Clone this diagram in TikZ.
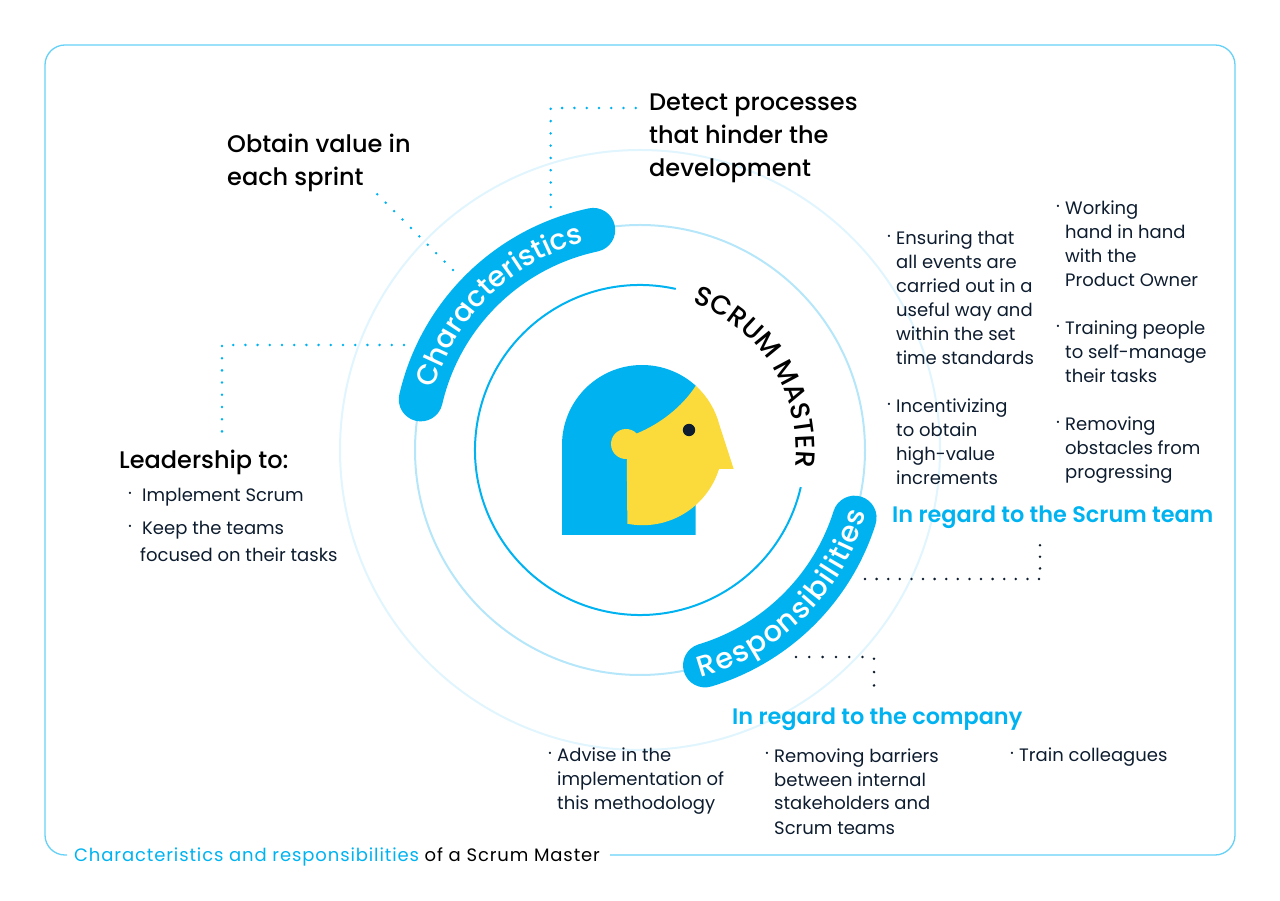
\documentclass[tikz,border=0pt]{standalone}
\usepackage{fontspec}
\setmainfont{Poppins}
\newfontfamily\medfont{Poppins Medium}
\newfontfamily\semifont{Poppins SemiBold}
\usepackage{tikz}
\usetikzlibrary{positioning, decorations.text}
\definecolor{skyblue}{HTML}{00B3F0}
\definecolor{sunyellow}{HTML}{FBDB3C}
\definecolor{navy}{HTML}{0D1C2E}
\definecolor{ringmid}{HTML}{B5E6F9}
\definecolor{ringout}{HTML}{E0F5FD}
\definecolor{framecol}{HTML}{66D1F6}
\newcommand{\charfont}{\medfont\fontsize{28.5}{28.5}\selectfont}
\newcommand{\respfont}{\medfont\fontsize{29}{29}\selectfont}
\newcommand{\titlefont}{\medfont\fontsize{27}{27}\selectfont}

\begin{document}
\begin{tikzpicture}[
        x=1pt, y=1pt,
        ring/.style={line width=2pt},
        pill/.style={line width=44pt, color=skyblue, line cap=round},
        bodytext/.style={inner sep=0pt, anchor=base west, align=left, text=navy, yshift=-1pt, font=\fontsize{18}{24}\selectfont},
        headtext/.style={inner sep=0pt, anchor=base west, align=left, text=black, yshift=-1pt, font=\medfont\fontsize{24}{33}\selectfont},
        bluehead/.style={inner sep=0pt, anchor=base west, text=skyblue, yshift=-1pt, font=\semifont\fontsize{22.4}{24}\selectfont},
        bullet/.style={inner sep=0pt, text=navy, yshift=-1pt, font=\fontsize{18}{24}\selectfont},
        bluedots/.style={line width=2.8pt, color=skyblue, line cap=round},
        darkdots/.style={line width=2.8pt, color=navy, line cap=round}
    ]
    \useasboundingbox (0,0) rectangle (1280,900);
    \coordinate (c) at (640,450);

    % frame
    \coordinate (frame_a) at (610,45);
    \coordinate (frame_b) at (67,45);
    \draw[framecol, line width=1.3pt, rounded corners=20pt] (frame_a) -- (1235,45) -- (1235,855) -- (45,855) -- (45,45) -- (frame_b);
    \node[inner sep=0pt, anchor=base west, yshift=-1pt, font=\addfontfeature{LetterSpace=4.9}\fontsize{18}{24}\selectfont] (caption) at (74,40) {\textcolor{skyblue}{Characteristics and responsibilities} of a Scrum Master};

    % rings
    \draw[ringout, ring] (c) circle (300);
    \draw[ringmid, ring] (c) circle (225);
    \draw[skyblue, ring] (c) +(77.5:165) arc (77.5:347:165);

    % pills
    \draw[pill] (c) +(167:225) arc (167:102:225);
    \draw[pill] (c) +(-73.2:225) arc (-73.2:-17.5:225);
    \path[decorate, decoration={text along path, text align={fit to path}, text={|\color{white}\charfont|Characteristics}}] (c) +(163.5:215) arc (163.5:105:215);
    \path[decorate, decoration={text along path, text align={fit to path}, text={|\color{white}\respfont|Responsibilities}}] (c) +(-75:235) arc (-75:-15.5:235);
    \path[decorate, decoration={text along path, text align={fit to path}, text={|\color{black}\titlefont|SCRUM MASTER}}] (c) +(70.5:156) arc (70.5:-6:156);

    % head
    \fill[skyblue] (562,365) -- (562,455) arc (180:47.7:80) -- (695.7,365) -- cycle;
    \fill[sunyellow] (695.8,514.2) arc (47.7:14.4:80) -- (733.7,431) -- (719,431) arc (-17.3:-101:80) -- (626.8,441) arc (273:44.5:15) .. controls (660,476) and (682,493) .. (695.8,514.2) -- cycle;
    \fill[navy] (689,470) circle (6.2);

    % dotted connectors
    \coordinate (d1a) at (550.7,693);
    \coordinate (d1b) at (550.7,792);
    \coordinate (d1c) at (636,792);
    \draw[bluedots, dash pattern=on 0pt off 12.27pt] (d1a) -- (d1b) -- (d1c);
    \coordinate (d2a) at (453,630);
    \coordinate (d2b) at (377,706);
    \draw[bluedots, dash pattern=on 0pt off 11.9pt] (d2a) -- (d2b);
    \coordinate (d3a) at (404,555);
    \coordinate (d3b) at (222,555);
    \coordinate (d3c) at (222,468);
    \draw[bluedots, dash pattern=on 0pt off 12.2pt] (d3a) -- (d3b) -- (d3c);
    \coordinate (d4a) at (865,321);
    \coordinate (d4b) at (1040,321);
    \coordinate (d4c) at (1040,356);
    \draw[darkdots, dash pattern=on 0pt off 11.6pt] (d4a) -- (d4b) -- (d4c);
    \coordinate (d5a) at (796,243);
    \coordinate (d5b) at (874,243);
    \coordinate (d5c) at (874,214);
    \draw[darkdots, dash pattern=on 0pt off 13.3pt] (d5a) -- (d5b) -- (d5c);

    % characteristics
    \node[headtext] (value) at (227,715) {Obtain value in\\each sprint};
    \node[headtext] (detect) at (649,724) {Detect processes\\that hinder the\\development};
    \node[headtext] (leader) at (119,432) {Leadership to:};
    \node[bullet] (b_impl) at (130,405) {·};
    \node[bodytext] (impl) at (142,399) {Implement Scrum};
    \node[bullet] (b_keep) at (130,372) {·};
    \node[bodytext] (keep) at (142,366) {Keep the teams};
    \node[bodytext] (focus) at (140,339) {focused on their tasks};

    % scrum team
    \node[bullet] (b_ensure) at (889,662) {·};
    \node[bodytext] (ensure) at (896,536) {Ensuring that\\all events are\\carried out in a\\useful way and\\within the set\\time standards};
    \node[bullet] (b_incent) at (889,494) {·};
    \node[bodytext] (incent) at (896,416) {Incentivizing\\to obtain\\high-value\\increments};
    \node[bullet] (b_work) at (1058,692) {·};
    \node[bodytext] (work) at (1065,614) {Working\\hand in hand\\with the\\Product Owner};
    \node[bullet] (b_train) at (1058,572) {·};
    \node[bodytext] (train) at (1065,518) {Training people\\to self-manage\\their tasks};
    \node[bullet] (b_remove) at (1058,476) {·};
    \node[bodytext] (remove) at (1065,422) {Removing\\obstacles from\\progressing};
    \node[bluehead] (teamhead) at (892,378) {In regard to the Scrum team};

    % company
    \node[bluehead] (comphead) at (732,176) {In regard to the company};
    \node[bullet] (b_advise) at (550,145) {·};
    \node[bodytext] (advise) at (557,91) {Advise in the\\implementation of\\this methodology};
    \node[bullet] (b_barrier) at (767,145) {·};
    \node[bodytext] (barrier) at (774,67) {Removing barriers\\between internal\\stakeholders and\\Scrum teams};
    \node[bullet] (b_coll) at (1012,145) {·};
    \node[bodytext] (coll) at (1019,139) {Train colleagues};
\end{tikzpicture}
\end{document}
